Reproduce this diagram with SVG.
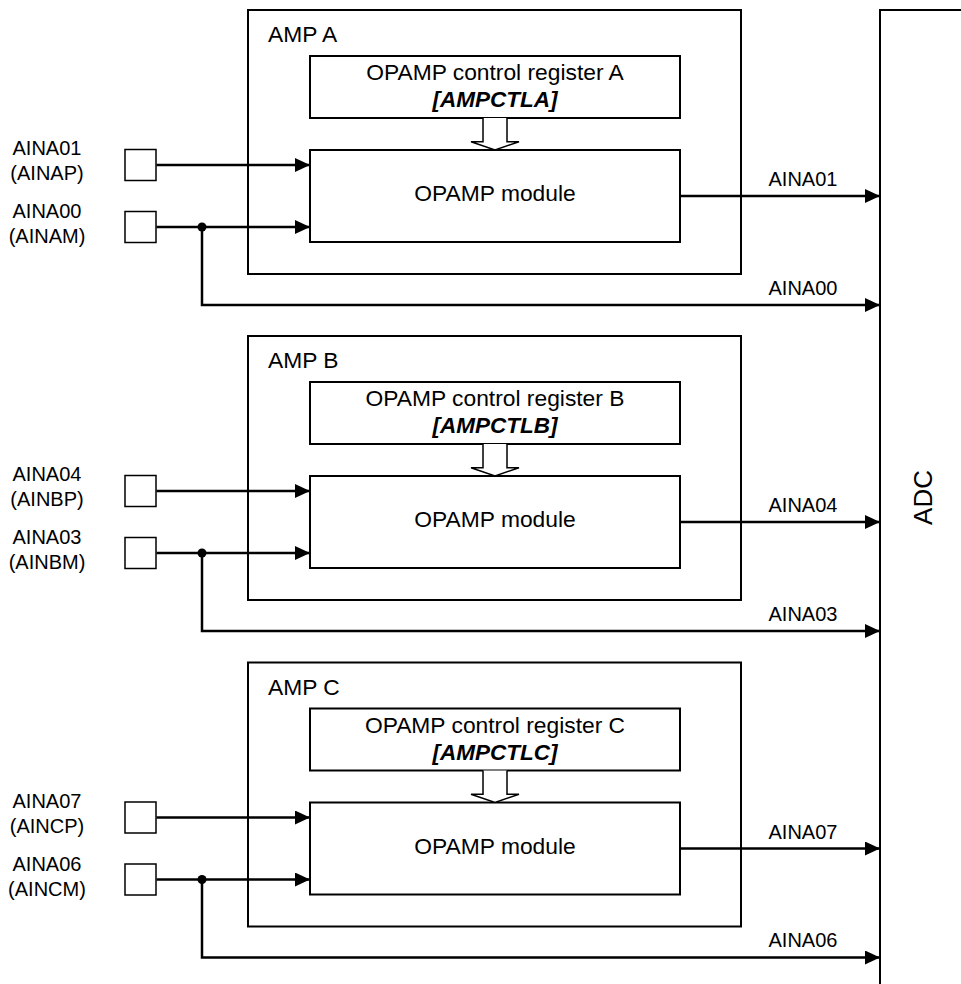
<svg xmlns="http://www.w3.org/2000/svg" width="961" height="984" viewBox="0 0 961 984">
<style>
text{font-family:"Liberation Sans",Arial,sans-serif;fill:#000}
.box{fill:#fff;stroke:#000;stroke-width:2}
.amp{fill:none;stroke:#000;stroke-width:2}
.pin{fill:#fff;stroke:#000;stroke-width:1.5}
.t22{font-size:22.8px}
.t20{font-size:20px}
.mid{text-anchor:middle}
.reg{font-size:22.5px;font-weight:bold;font-style:italic}
.wire{fill:none;stroke:#000;stroke-width:2.5;marker-end:url(#ah)}
.hollow{fill:#fff;stroke:#000;stroke-width:1.5}
</style>
<defs>
<marker id="ah" markerUnits="userSpaceOnUse" markerWidth="15" markerHeight="14" refX="15" refY="7" orient="auto">
<path d="M0,0 L15,7 L0,14 Z" fill="#000"/>
</marker>
<path id="harrow" d="M483,118 V141.7 H471 L495,150 L519,141.7 H507 V118"/>
</defs>
<rect width="961" height="984" fill="#fff"/>

<g id="adc">
<rect x="880" y="10" width="120" height="1000" class="amp"/>
<text x="931.5" y="497.5" class="mid" font-size="26" transform="rotate(-90 931.5 497.5)">ADC</text>
</g>

<!-- AMP A -->
<g id="amp-a">
<rect x="248" y="10" width="493" height="264" class="amp"/>
<text x="268" y="42" class="t22">AMP A</text>
</g>
<g id="reg-a">
<rect x="310" y="56" width="370" height="62" class="box"/>
<text x="495" y="80" class="t22 mid">OPAMP control register A</text>
<text x="495" y="107" class="reg mid">[AMPCTLA]</text>
</g>
<g id="mod-a">
<rect x="310" y="150" width="370" height="92" class="box"/>
<text x="495" y="201" class="t22 mid">OPAMP module</text>
</g>
<g id="pin-ainap">
<rect x="125" y="149.5" width="31" height="31" class="pin"/>
<text x="47" y="155" class="t20 mid">AINA01</text>
<text x="47" y="180" class="t20 mid">(AINAP)</text>
</g>
<g id="pin-ainam">
<rect x="125" y="211.5" width="31" height="31" class="pin"/>
<text x="47" y="218" class="t20 mid">AINA00</text>
<text x="47" y="243" class="t20 mid">(AINAM)</text>
</g>

<!-- AMP B -->
<g id="amp-b" transform="translate(0,326)">
<rect x="248" y="10" width="493" height="264" class="amp"/>
<text x="268" y="42" class="t22">AMP B</text>
</g>
<g id="reg-b" transform="translate(0,326)">
<rect x="310" y="56" width="370" height="62" class="box"/>
<text x="495" y="80" class="t22 mid">OPAMP control register B</text>
<text x="495" y="107" class="reg mid">[AMPCTLB]</text>
</g>
<g id="mod-b" transform="translate(0,326)">
<rect x="310" y="150" width="370" height="92" class="box"/>
<text x="495" y="201" class="t22 mid">OPAMP module</text>
</g>
<g id="pin-ainbp" transform="translate(0,326)">
<rect x="125" y="149.5" width="31" height="31" class="pin"/>
<text x="47" y="155" class="t20 mid">AINA04</text>
<text x="47" y="180" class="t20 mid">(AINBP)</text>
</g>
<g id="pin-ainbm" transform="translate(0,326)">
<rect x="125" y="211.5" width="31" height="31" class="pin"/>
<text x="47" y="218" class="t20 mid">AINA03</text>
<text x="47" y="243" class="t20 mid">(AINBM)</text>
</g>

<!-- AMP C -->
<g id="amp-c" transform="translate(0,652.5)">
<rect x="248" y="10" width="493" height="264" class="amp"/>
<text x="268" y="42" class="t22">AMP C</text>
</g>
<g id="reg-c" transform="translate(0,652.5)">
<rect x="310" y="56" width="370" height="62" class="box"/>
<text x="495" y="80" class="t22 mid">OPAMP control register C</text>
<text x="495" y="107" class="reg mid">[AMPCTLC]</text>
</g>
<g id="mod-c" transform="translate(0,652.5)">
<rect x="310" y="150" width="370" height="92" class="box"/>
<text x="495" y="201" class="t22 mid">OPAMP module</text>
</g>
<g id="pin-aincp" transform="translate(0,652.5)">
<rect x="125" y="149.5" width="31" height="31" class="pin"/>
<text x="47" y="155" class="t20 mid">AINA07</text>
<text x="47" y="180" class="t20 mid">(AINCP)</text>
</g>
<g id="pin-aincm" transform="translate(0,652.5)">
<rect x="125" y="211.5" width="31" height="31" class="pin"/>
<text x="47" y="218" class="t20 mid">AINA06</text>
<text x="47" y="243" class="t20 mid">(AINCM)</text>
</g>

<g id="connectors">
<g id="conn-a">
<use href="#harrow" class="hollow"/>
<path class="wire" d="M156.5,165 H310"/>
<path class="wire" d="M156.5,227 H310"/>
<circle cx="202" cy="227" r="4.5" fill="#000"/>
<path class="wire" d="M202,227 V305 H880"/>
<path class="wire" d="M680,196 H880"/>
<text x="768.5" y="186" class="t20">AINA01</text>
<text x="768.5" y="294.5" class="t20">AINA00</text>
</g>
<g id="conn-b" transform="translate(0,326)">
<use href="#harrow" class="hollow"/>
<path class="wire" d="M156.5,165 H310"/>
<path class="wire" d="M156.5,227 H310"/>
<circle cx="202" cy="227" r="4.5" fill="#000"/>
<path class="wire" d="M202,227 V305 H880"/>
<path class="wire" d="M680,196 H880"/>
<text x="768.5" y="186" class="t20">AINA04</text>
<text x="768.5" y="294.5" class="t20">AINA03</text>
</g>
<g id="conn-c" transform="translate(0,652.5)">
<use href="#harrow" class="hollow"/>
<path class="wire" d="M156.5,165 H310"/>
<path class="wire" d="M156.5,227 H310"/>
<circle cx="202" cy="227" r="4.5" fill="#000"/>
<path class="wire" d="M202,227 V305 H880"/>
<path class="wire" d="M680,196 H880"/>
<text x="768.5" y="186" class="t20">AINA07</text>
<text x="768.5" y="294.5" class="t20">AINA06</text>
</g>
</g>
</svg>
